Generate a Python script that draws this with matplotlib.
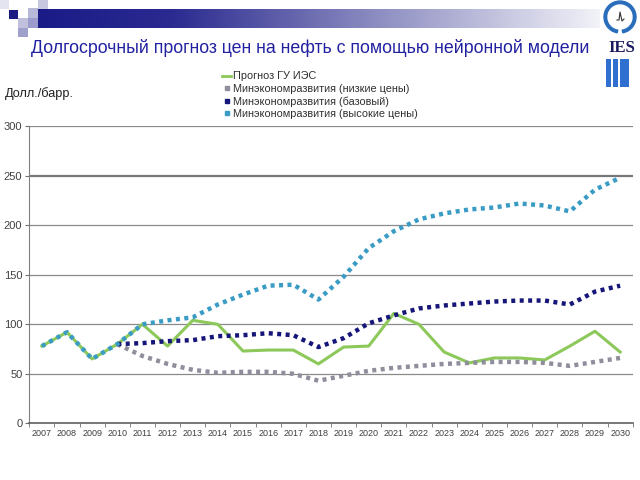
import numpy as np
import matplotlib
matplotlib.use("Agg")
import matplotlib.pyplot as plt
from matplotlib.lines import Line2D
from matplotlib.patches import Rectangle, Circle, Wedge
from matplotlib.colors import LinearSegmentedColormap

plt.rcParams['font.family'] = ['Liberation Sans', 'DejaVu Sans']

years = [str(y) for y in range(2007, 2031)]
nan = np.nan
ies = [78, 92, 65, 80, 100, 78, 104, 100, 73, 74, 74, 60, 77, 78, 111, 100, 72, 61, 66, 66, 64, 78, 93, 72]
low = [nan, nan, nan, 80, 68, 60, 54, 51, 52, 52, 50, 43, 48, 53, 56, 58, 60, 61, 62, 62, 61, 58, 62, 66]
base = [nan, nan, nan, 80, 81, 83, 84, 88, 89, 91, 89, 77, 86, 101, 109, 116, 119, 121, 123, 124, 124, 120, 133, 139]
high = [78, 92, 65, 80, 100, 104, 107, 120, 130, 139, 140, 125, 148, 177, 194, 206, 212, 216, 218, 222, 220, 214, 236, 248]
labels = ["Прогноз ГУ ИЭС", "Минэкономразвития (низкие цены)",
          "Минэкономразвития (базовый)", "Минэкономразвития (высокие цены)"]
yticks = [0, 50, 100, 150, 200, 250, 300]

c_green = "#8DC85A"
c_gray = "#8E8E9C"
c_navy = "#16167A"
c_teal = "#3A9CC4"

W, H = 640, 480
fig = plt.figure(figsize=(6.4, 4.8), dpi=100)

def fx(x): return x / W
def fy(y): return 1 - y / H

# decorative banner
bax = fig.add_axes([0, 0, 1, 1], zorder=-1)
bax.set_xlim(0, W); bax.set_ylim(H, 0); bax.axis('off')
cmap = LinearSegmentedColormap.from_list("b", [(0, "#1A1A88"), (0.25, "#2A2A90"), (0.6, "#8A8AC0"), (1, "#F2F2F8")])
grad = np.linspace(0, 1, 256)[None, :]
bax.imshow(grad, extent=[28, 600, 28, 9], cmap=cmap, aspect='auto')
for (x0, y0, w, h, col) in [(38, 0, 10, 9, "#C8C8E0"), (28, 8, 10, 10, "#B8B8D8"),
                            (18, 18, 10, 10, "#C0C0DC"), (28, 18, 10, 10, "#9C9CCC"),
                            (18, 28, 10, 9, "#A0A0CC"), (0, 0, 9, 9, "#E4E4F0"),
                            (9, 10, 9, 9, "#1A1A80")]:
    bax.add_patch(Rectangle((x0, y0), w, h, color=col, lw=0))
# IES logo
bax.add_patch(Wedge((620, 17), 16, 100, 80, width=4, color="#2A6EBB"))
bax.add_patch(Circle((620, 17), 12, color="white"))
bax.plot([617, 619, 620, 622, 624], [20, 20, 12, 21, 19], color="#333333", lw=0.8)
bax.text(622, 48, "IES", family=["Liberation Serif", "DejaVu Serif"], fontweight='bold',
         fontsize=12, color="#1A1A60", ha='center', va='center')
for (x0, w) in [(606, 5), (613, 5), (620, 9)]:
    bax.add_patch(Rectangle((x0, 59), w, 28, color="#2F6FD0", lw=0))

fig.text(fx(310), fy(48), "Долгосрочный прогноз цен на нефть с помощью нейронной модели",
         ha='center', va='center', fontsize=12.8, color="#2020A0")
fig.text(fx(5), fy(94), "Долл./барр.", ha='left', va='center', fontsize=9.2, color="#202020")

ax = fig.add_axes([fx(29.3), fy(423.3), fx(632.7 - 29.3), (423.3 - 126.3) / H])
x = np.arange(len(years))
ax.plot(x, ies, color=c_green, lw=2.2, zorder=3)
dot = dict(lw=3.2, linestyle=(0, (0.9, 1.0)), dash_capstyle='butt', zorder=4)
ax.plot(x, low, color=c_gray, **dot)
ax.plot(x, base, color=c_navy, **dot)
ax.plot(x, high, color=c_teal, **dot)

ax.set_xlim(-0.5, len(years) - 0.5)
ax.set_ylim(0, 300)
ax.set_yticks(yticks)
ax.set_xticks(x)
ax.set_xticklabels(years)
ax.set_xticks(np.arange(-0.5, len(years)), minor=True)
ax.tick_params(axis='x', which='major', length=0, labelsize=6.5, labelcolor="#404040", pad=4)
ax.tick_params(axis='x', which='minor', length=3, color="#707070", direction='out')
ax.tick_params(axis='y', length=3, color="#707070", labelsize=8, labelcolor="#404040", pad=2)
for yv in yticks[1:]:
    ax.axhline(yv, color="#777777" if yv == 250 else "#8A8A8A", lw=1.6 if yv == 250 else 0.9, zorder=1)
for s in ['top', 'right']:
    ax.spines[s].set_visible(False)
ax.spines['left'].set_color("#808080")
ax.spines['bottom'].set_color("#606060")
ax.spines['bottom'].set_linewidth(1.2)

handles = [Line2D([], [], color=c_green, lw=2),
           Line2D([], [], color=c_gray, marker='s', ms=3.5, lw=0),
           Line2D([], [], color=c_navy, marker='s', ms=3.5, lw=0),
           Line2D([], [], color=c_teal, marker='s', ms=3.5, lw=0)]
fig.legend(handles, labels, loc='upper left', bbox_to_anchor=(fx(217), fy(66)), frameon=False,
           fontsize=7.8, handlelength=0.8, handletextpad=0.2, labelspacing=0.22,
           borderpad=0, labelcolor="#303030")

fig.savefig("out.png", dpi=100)
